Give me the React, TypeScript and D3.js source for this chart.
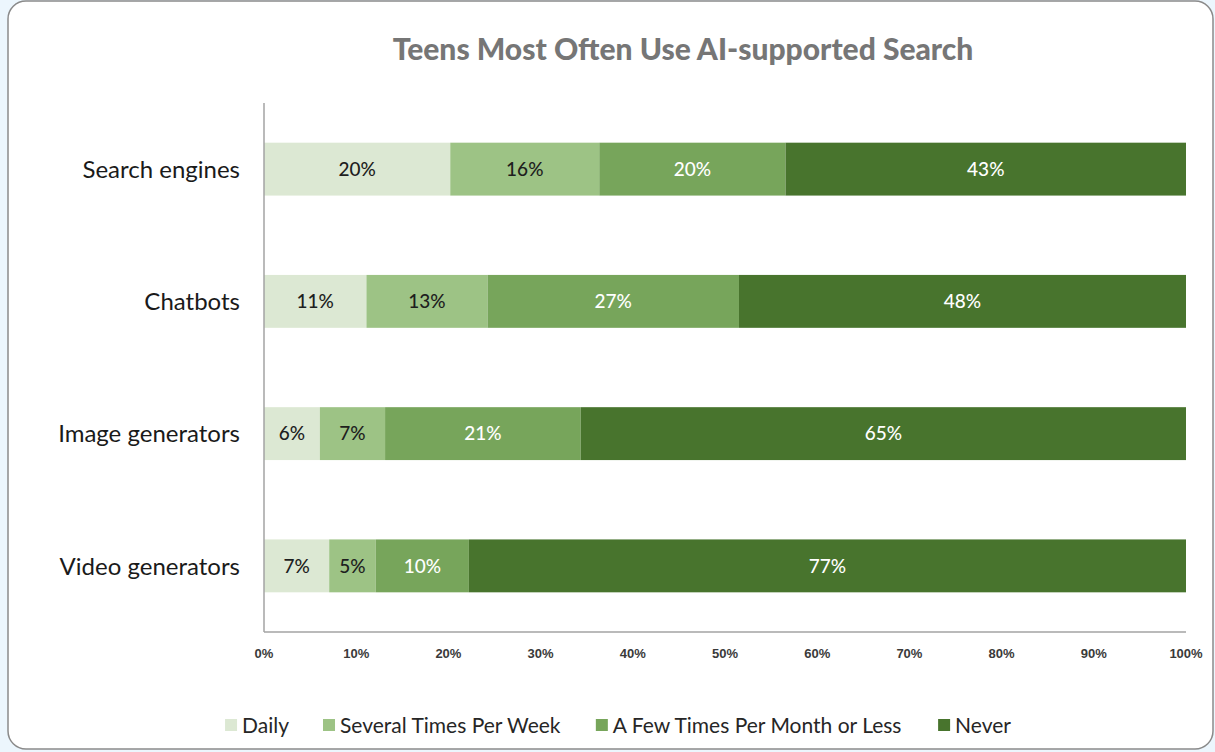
import React, { useMemo } from 'react';
import * as d3 from 'd3';

// Chart data (percent of teens, as printed on the bars)
const categories = ['Search engines', 'Chatbots', 'Image generators', 'Video generators'];
const seriesNames = ['Daily', 'Several Times Per Week', 'A Few Times Per Month or Less', 'Never'];
const daily = [20, 11, 6, 7];
const severalPerWeek = [16, 13, 7, 5];
const fewPerMonth = [20, 27, 21, 10];
const never = [43, 48, 65, 77];
const xTickValues = [0, 0.1, 0.2, 0.3, 0.4, 0.5, 0.6, 0.7, 0.8, 0.9, 1];

const colors = ['#dce8d3', '#9dc385', '#77a55b', '#48742d'];
const labelColors = ['#1e1e1e', '#1e1e1e', '#ffffff', '#ffffff'];

const width = 1215;
const height = 752;
const marginLeft = 264;
const marginRight = 29;
const plotTop = 103;
const plotBottom = 632;

const bodyFont = 'Lato, "Open Sans", sans-serif';

function measure(text: string, font: string): number {
  const canvas = document.createElement('canvas');
  const ctx = canvas.getContext('2d');
  if (!ctx) return text.length * 9;
  ctx.font = font;
  return ctx.measureText(text).width;
}

const App: React.FC = () => {
  const rows = categories.map((c, i) => ({
    category: c,
    [seriesNames[0]]: daily[i],
    [seriesNames[1]]: severalPerWeek[i],
    [seriesNames[2]]: fewPerMonth[i],
    [seriesNames[3]]: never[i],
  }));

  // 100% stacked: each row normalised to its own total
  const stacked = d3.stack<any>()
    .keys(seriesNames)
    .offset(d3.stackOffsetExpand)(rows);

  const x = d3.scaleLinear().domain([0, 1]).range([marginLeft, width - marginRight]);
  const y = d3.scaleBand<string>()
    .domain(categories)
    .range([plotTop, plotBottom])
    .paddingInner(0.6)
    .paddingOuter(0.3);

  const fmt = d3.format('.0%');

  // Legend layout, centred under the plot
  const legendFont = `21px ${bodyFont}`;
  const legend = useMemo(() => {
    const sq = 12;
    const gapText = 5;
    const gapItem = 34;
    const widths = seriesNames.map(s => measure(s, legendFont));
    const total = widths.reduce((a, w) => a + sq + gapText + w, 0) + gapItem * (seriesNames.length - 1);
    let cx = 618 - total / 2;
    return seriesNames.map((s, i) => {
      const item = { name: s, x: cx, color: colors[i] };
      cx += sq + gapText + widths[i] + gapItem;
      return item;
    });
  }, []);

  return (
    <svg
      width={width}
      height={height}
      style={{ position: 'absolute', left: 0, top: 0, display: 'block' }}
    >
      <rect x={0} y={0} width={width} height={height} fill="#ecf6fd" />
      <rect x={8} y={1} width={1205} height={748} rx={18} fill="#ffffff" stroke="#8a8a8a" strokeWidth={1.5} />

      <text
        x={683}
        y={60}
        textAnchor="middle"
        fontFamily={bodyFont}
        fontWeight={900}
        fontSize={30}
        fill="#767676"
      >
        Teens Most Often Use AI-supported Search
      </text>

      {/* bars */}
      {stacked.map((series, si) => (
        <g key={series.key}>
          {series.map((d, i) => {
            const cat = categories[i];
            const x0 = x(d[0]);
            const x1 = x(d[1]);
            const yy = y(cat) || 0;
            return (
              <g key={cat}>
                <rect
                  x={x0}
                  y={yy}
                  width={x1 - x0}
                  height={y.bandwidth()}
                  fill={colors[si]}
                />
                <text
                  x={(x0 + x1) / 2}
                  y={yy + y.bandwidth() / 2}
                  dy="0.36em"
                  textAnchor="middle"
                  fontFamily={bodyFont}
                  fontSize={19}
                  fontWeight={500}
                  fill={labelColors[si]}
                >
                  {d.data[series.key]}%
                </text>
              </g>
            );
          })}
        </g>
      ))}

      {/* axes */}
      <line x1={marginLeft} x2={marginLeft} y1={plotTop} y2={plotBottom} stroke="#a3a3a3" strokeWidth={1.5} />
      <line x1={marginLeft} x2={width - marginRight} y1={plotBottom} y2={plotBottom} stroke="#a3a3a3" strokeWidth={1.5} />

      {xTickValues.map(t => (
        <text
          key={t}
          x={x(t)}
          y={658}
          textAnchor="middle"
          fontFamily='"Liberation Sans", Arial, sans-serif'
          fontSize={13}
          fontWeight={600}
          fill="#3a3a3a"
        >
          {fmt(t)}
        </text>
      ))}

      {categories.map(c => (
        <text
          key={c}
          x={240}
          y={(y(c) || 0) + y.bandwidth() / 2}
          dy="0.36em"
          textAnchor="end"
          fontFamily={bodyFont}
          fontSize={24}
          fill="#1a1a1a"
        >
          {c}
        </text>
      ))}

      {/* legend */}
      {legend.map(item => (
        <g key={item.name}>
          <rect x={item.x} y={719} width={12} height={12} fill={item.color} />
          <text
            x={item.x + 17}
            y={725}
            dy="0.36em"
            fontFamily={bodyFont}
            fontSize={21}
            fill="#262626"
          >
            {item.name}
          </text>
        </g>
      ))}
    </svg>
  );
};

export default App;
